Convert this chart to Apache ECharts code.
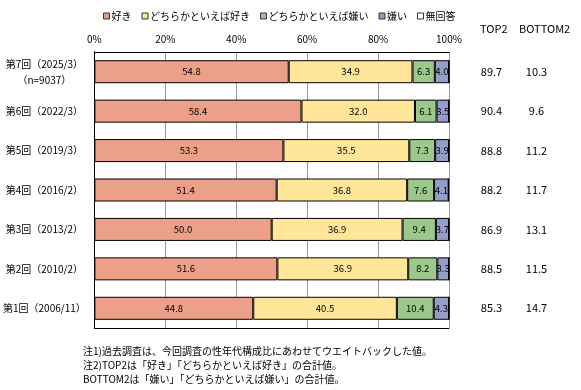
<!DOCTYPE html>
<html><head><meta charset="utf-8">
<script src="https://cdn.jsdelivr.net/npm/echarts@6/dist/echarts.min.js"></script>
<style>html,body{margin:0;padding:0;background:#fff}#c{width:581px;height:390px}</style>
</head><body><div id="c"></div>
<script>
const categories = ['第7回（2025/3）\n（n=9037）','第6回（2022/3）','第5回（2019/3）','第4回（2016/2）','第3回（2013/2）','第2回（2010/2）','第1回（2006/11）'];
const seriesNames = ['好き','どちらかといえば好き','どちらかといえば嫌い','嫌い','無回答'];
const like = [54.8, 58.4, 53.3, 51.4, 50.0, 51.6, 44.8];
const ratherLike = [34.9, 32.0, 35.5, 36.8, 36.9, 36.9, 40.5];
const ratherDislike = [6.3, 6.1, 7.3, 7.6, 9.4, 8.2, 10.4];
const dislike = [4.0, 3.5, 3.9, 4.1, 3.7, 3.3, 4.3];
const noAnswer = [0, 0, 0, 0, 0, 0, 0];
const top2 = ['89.7','90.4','88.8','88.2','86.9','88.5','85.3'];
const bottom2 = ['10.3','9.6','11.2','11.7','13.1','11.5','14.7'];
const xTicks = [0, 20, 40, 60, 80, 100];
const notes = ['注1)過去調査は、今回調査の性年代構成比にあわせてウエイトバックした値。','注2)TOP2は「好き」「どちらかといえば好き」の合計値。','BOTTOM2は「嫌い」「どちらかといえば嫌い」の合計値。'];

const colors = ['#ECA08A','#FFE699','#9DC88B','#959DC8','#FFFFFF'];
const values = [like, ratherLike, ratherDislike, dislike, noAnswer];
const FONT = '"Noto Sans CJK JP", sans-serif';

const chart = echarts.init(document.getElementById('c'), null, {renderer:'canvas'});
chart.setOption({
  animation:false,
  color: colors,
  textStyle:{fontFamily:FONT},
  legend:{
    top:6, left:98, itemWidth:6, itemHeight:6, itemGap:10,
    icon:'rect',
    textStyle:{fontSize:10, color:'#000', fontFamily:FONT, padding:[0,0,0,-3]},
    itemStyle:{borderColor:'#333', borderWidth:1},
    data: seriesNames
  },
  grid:{left:94, right:132, top:52, bottom:62},
  xAxis:[{
    type:'value', position:'top', min:xTicks[0], max:xTicks[xTicks.length-1], interval:20,
    axisLine:{show:true, lineStyle:{color:'#000', width:1}},
    axisTick:{show:false},
    axisLabel:{formatter:'{value}%', fontSize:10, color:'#000', margin:8, fontFamily:FONT},
    splitLine:{show:true, lineStyle:{color:'#999', width:1}}
  },{
    type:'value', position:'bottom', min:0, max:100,
    axisLine:{show:true, lineStyle:{color:'#000', width:1}},
    axisTick:{show:false}, axisLabel:{show:false}, splitLine:{show:false}
  }],
  yAxis:[{
    type:'category', inverse:true, data:categories,
    axisLine:{show:true, lineStyle:{color:'#000', width:1}},
    axisTick:{show:false},
    axisLabel:{fontSize:10, color:'#000', margin:50, align:'center', lineHeight:16, fontFamily:FONT}
  },{
    type:'category', inverse:true, position:'right', data:categories.map((c,i)=>i),
    axisLine:{show:true, lineStyle:{color:'#000', width:1}},
    axisTick:{show:false},
    axisLabel:{margin:20, align:'left', fontSize:11, color:'#000',
      formatter:(v,i)=>'{a|'+top2[i]+'}{b|'+bottom2[i]+'}',
      rich:{a:{width:45, align:'center', fontSize:11, fontFamily:FONT}, b:{width:45, align:'center', fontSize:11, fontFamily:FONT}}}
  }],
  graphic:[
    {type:'text', left:480, top:23, style:{text:'TOP2', fontSize:11, fill:'#000', fontFamily:FONT}},
    {type:'text', left:519, top:23, style:{text:'BOTTOM2', fontSize:11, fill:'#000', fontFamily:FONT}},
    {type:'text', left:83, top:344, style:{text:notes.join('\n'), fontSize:10, lineHeight:14, fill:'#000', fontFamily:FONT}}
  ],
  series: seriesNames.map((n,k)=>({
    name:n, type:'bar', stack:'t', barWidth:23, data:values[k],
    itemStyle:{color:colors[k], borderColor:'#000', borderWidth:1},
    label:{show:true, position:'inside', fontSize:9.5, color:'#000', fontFamily:FONT,
      formatter:p=>p.value>0?p.value.toFixed(1):''}
  }))
});
</script></body></html>
